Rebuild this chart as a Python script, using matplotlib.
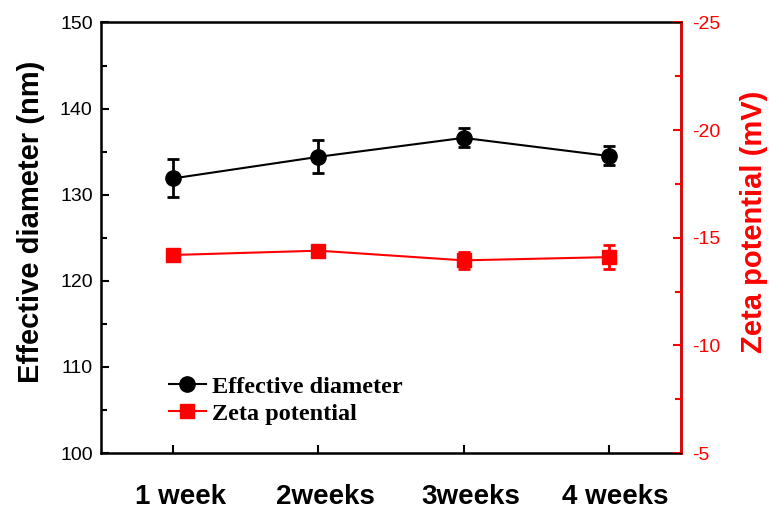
import numpy as np
import matplotlib.pyplot as plt
import matplotlib.transforms as mtransforms
from matplotlib.ticker import MultipleLocator
from matplotlib.lines import Line2D

weeks = ["1 week", "2weeks", "3weeks", "4 weeks"]
diameter = [131.9, 134.4, 136.6, 134.5]
diameter_err = [2.2, 1.9, 1.1, 1.1]
zeta = [-14.2, -14.4, -13.95, -14.1]
zeta_err = [0.3, 0.2, 0.4, 0.55]

plt.rcParams['font.family'] = ['Liberation Sans', 'DejaVu Sans']
plt.rcParams['axes.unicode_minus'] = False

fig = plt.figure(figsize=(7.69, 5.09), dpi=100)
ax = fig.add_axes([0.1313, 0.110, 0.7543, 0.8458])
x = np.arange(1, len(weeks) + 1)

ax.errorbar(x, diameter, yerr=diameter_err, color='black', marker='o', markersize=11,
            linewidth=1.5, elinewidth=2, capsize=4, capthick=2)
ax.set_xlim(0.5, 4.5)
ax.set_ylim(100, 150)
ax.yaxis.set_major_locator(MultipleLocator(10))
ax.yaxis.set_minor_locator(MultipleLocator(5))
ax.set_xticks(x)
ax.set_xticklabels(weeks, fontsize=20, fontweight='bold')
ax.tick_params(axis='x', direction='in', length=6, width=1.5, pad=22)
ax.tick_params(axis='y', which='major', direction='in', length=6, width=1.5, labelsize=14, pad=6)
ax.tick_params(axis='y', which='minor', direction='in', length=4, width=1.5)
ax.set_ylabel('Effective diameter (nm)', fontsize=21, fontweight='bold', labelpad=11, y=0.537)
for s in ax.spines.values():
    s.set_linewidth(1.8)

# nudge the week labels a little to the right
shift = mtransforms.ScaledTranslation(7 / 100, 0, fig.dpi_scale_trans)
for lbl in ax.get_xticklabels():
    lbl.set_transform(lbl.get_transform() + shift)

# zeta potential on a reversed right axis (-25 at the top)
ax2 = ax.twinx()
ax2.errorbar(x, zeta, yerr=zeta_err, color='red', marker='s', markersize=10,
             linewidth=1.5, elinewidth=2, capsize=4, capthick=2)
ax2.set_ylim(-5, -25)
ax2.yaxis.set_major_locator(MultipleLocator(5))
ax2.yaxis.set_minor_locator(MultipleLocator(2.5))
ax2.tick_params(axis='y', which='major', direction='in', length=6, width=1.5, labelsize=14,
                colors='red', pad=8)
ax2.tick_params(axis='y', which='minor', direction='in', length=4, width=1.5, colors='red')
ax2.spines['right'].set_color('red')
ax2.spines['right'].set_linewidth(1.8)
ax2.set_ylabel('Zeta potential (mV)', fontsize=21, fontweight='bold', color='red',
               labelpad=14, y=0.537)

handles = [Line2D([], [], color='black', marker='o', markersize=11, linewidth=1.5),
           Line2D([], [], color='red', marker='s', markersize=10, linewidth=1.5)]
ax.legend(handles, ['Effective diameter', 'Zeta potential'], loc='lower left',
          bbox_to_anchor=(0.08, 0.015), frameon=False,
          handlelength=1.5, handletextpad=0.25, labelspacing=0.2,
          prop={'family': 'Liberation Serif', 'weight': 'bold', 'size': 17.5})

fig.savefig('out.png', dpi=100)
